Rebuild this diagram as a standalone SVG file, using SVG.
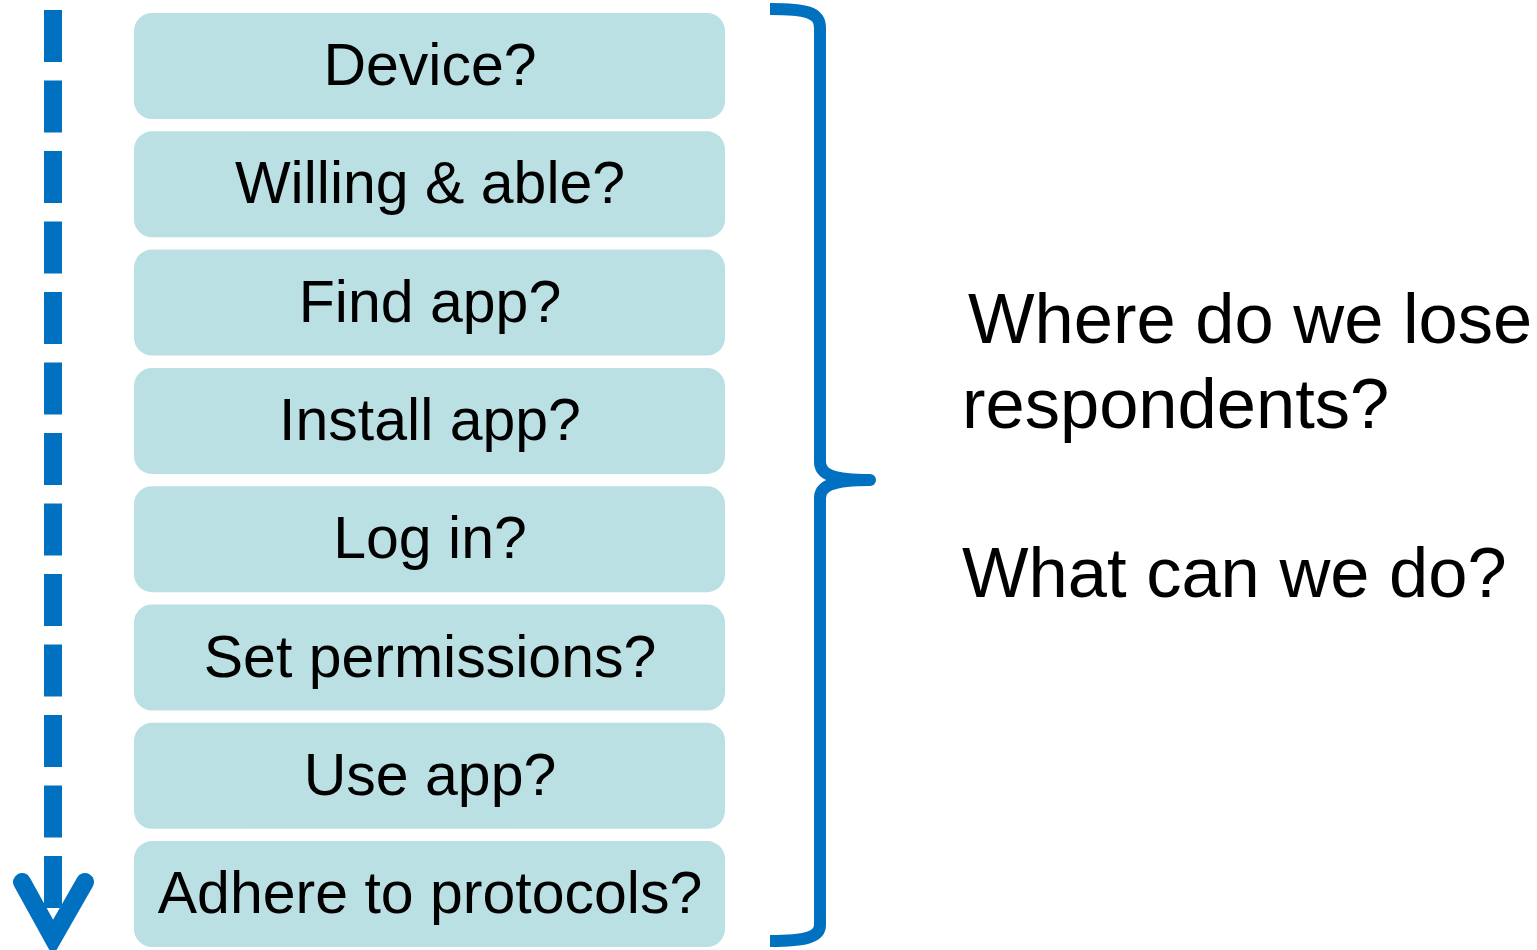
<svg xmlns="http://www.w3.org/2000/svg" width="1537" height="950" viewBox="0 0 1537 950">
<style>
.box{fill:#BBE0E3}
.lbl{font-family:"Liberation Sans",Arial,sans-serif;font-size:59px;fill:#000;text-anchor:middle}
.q{font-family:"Liberation Sans",Arial,sans-serif;font-size:70.5px;fill:#000}
.blue{stroke:#0070C0;fill:none}
</style>
<rect width="1537" height="950" fill="#fff"/>
<g id="connectors">
<line class="blue" x1="53" y1="10" x2="53" y2="932" stroke-width="18" stroke-dasharray="52 18.5"/>
<polyline class="blue" points="22,882 53,938 85,882" stroke-width="18" stroke-linecap="round" stroke-linejoin="miter"/>
<path class="blue" stroke-width="12" d="M770,9 C806,9 820,12 820,28 L820,462 C820,474 832,480 870,480" stroke-linecap="butt"/>
<path class="blue" stroke-width="12" d="M870,480 C832,480 820,486 820,498 L820,925 C820,937 806,941 770,941"/>
<circle cx="870" cy="480" r="6" fill="#0070C0"/>
</g>
<g id="n1"><rect class="box" x="134" y="13" width="591" height="106" rx="18"/><text class="lbl" x="430" y="85">Device?</text></g>
<g id="n2"><rect class="box" x="134" y="131.3" width="591" height="106" rx="18"/><text class="lbl" x="430" y="203.3">Willing &amp; able?</text></g>
<g id="n3"><rect class="box" x="134" y="249.6" width="591" height="106" rx="18"/><text class="lbl" x="430" y="321.6">Find app?</text></g>
<g id="n4"><rect class="box" x="134" y="367.9" width="591" height="106" rx="18"/><text class="lbl" x="430" y="439.9">Install app?</text></g>
<g id="n5"><rect class="box" x="134" y="486.2" width="591" height="106" rx="18"/><text class="lbl" x="430" y="558.2">Log in?</text></g>
<g id="n6"><rect class="box" x="134" y="604.5" width="591" height="106" rx="18"/><text class="lbl" x="430" y="676.5">Set permissions?</text></g>
<g id="n7"><rect class="box" x="134" y="722.8" width="591" height="106" rx="18"/><text class="lbl" x="430" y="794.8">Use app?</text></g>
<g id="n8"><rect class="box" x="134" y="841.1" width="591" height="106" rx="18"/><text class="lbl" x="430" y="913.1">Adhere to protocols?</text></g>
<g id="questions">
<text class="q" x="968" y="343">Where do we lose</text>
<text class="q" x="962" y="428">respondents?</text>
<text class="q" x="962" y="597">What can we do?</text>
</g>
</svg>
